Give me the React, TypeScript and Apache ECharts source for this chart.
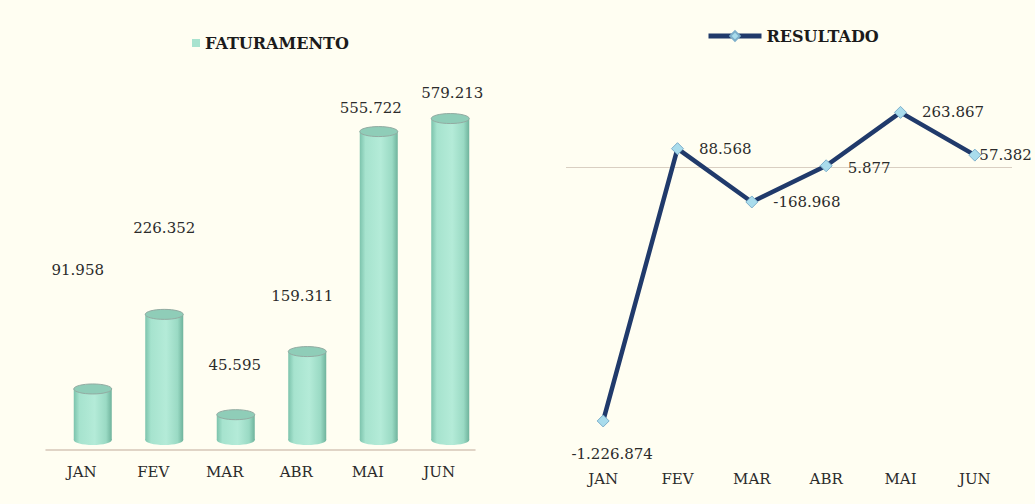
import React, { useEffect, useRef } from "react";
import * as echarts from "echarts";

const months = ["JAN", "FEV", "MAR", "ABR", "MAI", "JUN"];
const faturamento = [91958, 226352, 45595, 159311, 555722, 579213];
const resultado = [-1226874, 88568, -168968, 5877, 263867, 57382];

// label offsets (style only) for the 3D-like bar labels, relative to the top of each cylinder
const barLabelOffsets = [
  [-15, -119],
  [0, -86],
  [-1, -50],
  [-5, -56],
  [-8, -24],
  [2, -26],
];

const FONT = "DejaVu Serif";

const fmt = (v: number) => {
  const neg = v < 0;
  const s = String(Math.abs(v)).replace(/\B(?=(\d{3})+(?!\d))/g, ".");
  return (neg ? "-" : "") + s;
};

export default function App() {
  const ref = useRef<HTMLDivElement>(null);
  useEffect(() => {
    document.body.style.margin = "0";
    if (!ref.current) return;
    const chart = echarts.init(ref.current, undefined, { renderer: "svg" });

    const bodyGrad = new echarts.graphic.LinearGradient(0, 0, 1, 0, [
      { offset: 0, color: "#7CC3AC" },
      { offset: 0.15, color: "#A6E3CE" },
      { offset: 0.55, color: "#B4EBD8" },
      { offset: 0.85, color: "#9ADAC4" },
      { offset: 1, color: "#6FB39C" },
    ]);

    const rightLabel = (dist: number) => ({
      show: true,
      position: "right",
      distance: dist,
      color: "#2b2b2b",
      fontFamily: FONT,
      fontSize: 15,
    });

    const lineData = resultado.map((v, i) => {
      const item: any = { value: v };
      if (i === 0) {
        item.label = {
          show: true,
          position: "bottom",
          distance: 19,
          offset: [9, 0],
          color: "#2b2b2b",
          fontFamily: FONT,
          fontSize: 15,
        };
      } else if (i === 5) {
        item.label = rightLabel(-2);
      } else if (i === 3) {
        item.label = { ...rightLabel(15), offset: [0, 2] };
      } else {
        item.label = rightLabel(15);
      }
      return item;
    });

    chart.setOption({
      animation: false,
      backgroundColor: "#FFFEF2",
      legend: [
        {
          data: ["FATURAMENTO"],
          left: 187,
          top: 30,
          icon: "rect",
          itemWidth: 8,
          itemHeight: 8,
          textStyle: { fontFamily: FONT, fontSize: 16, fontWeight: "bold", color: "#1b1b1b" },
        },
        {
          data: ["RESULTADO"],
          left: 701,
          top: 23,
          itemWidth: 53,
          itemHeight: 12,
          lineStyle: { width: 5 },
          textStyle: { fontFamily: FONT, fontSize: 16, fontWeight: "bold", color: "#1b1b1b" },
        },
      ],
      grid: [
        { left: 46, width: 429, top: 61.5, height: 388.5 },
        { left: 566, width: 446, top: 84.2, height: 372.6 },
      ],
      xAxis: [
        {
          type: "category",
          gridIndex: 0,
          data: months,
          axisLine: { lineStyle: { color: "#D6C6B8", width: 1.5 } },
          axisTick: { show: false },
          axisLabel: { color: "#2b2b2b", fontFamily: FONT, fontSize: 15, margin: 14 },
        },
        {
          type: "category",
          gridIndex: 1,
          data: months,
          axisLine: { show: false },
          axisTick: { show: false },
          axisLabel: { color: "#2b2b2b", fontFamily: FONT, fontSize: 15, margin: 15 },
        },
      ],
      yAxis: [
        { type: "value", gridIndex: 0, min: 0, max: 700000, show: false, splitLine: { show: false } },
        { type: "value", gridIndex: 1, min: -1400000, max: 400000, show: false, splitLine: { show: false } },
      ],
      series: [
        {
          name: "FATURAMENTO",
          type: "custom",
          xAxisIndex: 0,
          yAxisIndex: 0,
          itemStyle: { color: "#A8E3CF" },
          data: faturamento.map((v, i) => [i, v]),
          renderItem: (params: any, api: any) => {
            const i = api.value(0);
            const v = api.value(1);
            const base = api.coord([i, 0]);
            const top = api.coord([i, v]);
            const w = 38;
            const ry = 5;
            const cx = base[0] + 11;
            const yb = base[1] - 10;
            const yt = top[1] - 10;
            const off = barLabelOffsets[params.dataIndex] || [0, -20];
            return {
              type: "group",
              children: [
                {
                  type: "ellipse",
                  shape: { cx, cy: yb, rx: w / 2, ry },
                  style: { fill: bodyGrad },
                },
                {
                  type: "rect",
                  shape: { x: cx - w / 2, y: yt, width: w, height: yb - yt },
                  style: { fill: bodyGrad },
                },
                {
                  type: "ellipse",
                  shape: { cx, cy: yt, rx: w / 2, ry },
                  style: { fill: "#8FCDB8", stroke: "#93ABA2", lineWidth: 1 },
                },
                {
                  type: "text",
                  style: {
                    text: fmt(v),
                    x: cx + off[0],
                    y: yt + off[1],
                    align: "center",
                    verticalAlign: "middle",
                    fill: "#2b2b2b",
                    font: `15px "${FONT}"`,
                  },
                },
              ],
            };
          },
        },
        {
          name: "RESULTADO",
          type: "line",
          xAxisIndex: 1,
          yAxisIndex: 1,
          data: lineData,
          symbol: "diamond",
          symbolSize: 12,
          lineStyle: { color: "#203A6B", width: 4.5 },
          itemStyle: { color: "#A9DCEC", borderColor: "#7DAFCB", borderWidth: 1 },
          label: { formatter: (p: any) => fmt(p.value) },
          markLine: {
            silent: true,
            symbol: "none",
            label: { show: false },
            lineStyle: { color: "#D9CFC2", width: 1, type: "solid" },
            data: [{ yAxis: 0 }],
            z: 1,
          },
          z: 3,
        },
      ],
    });
    return () => chart.dispose();
  }, []);
  return <div ref={ref} style={{ width: 1035, height: 504 }} />;
}
